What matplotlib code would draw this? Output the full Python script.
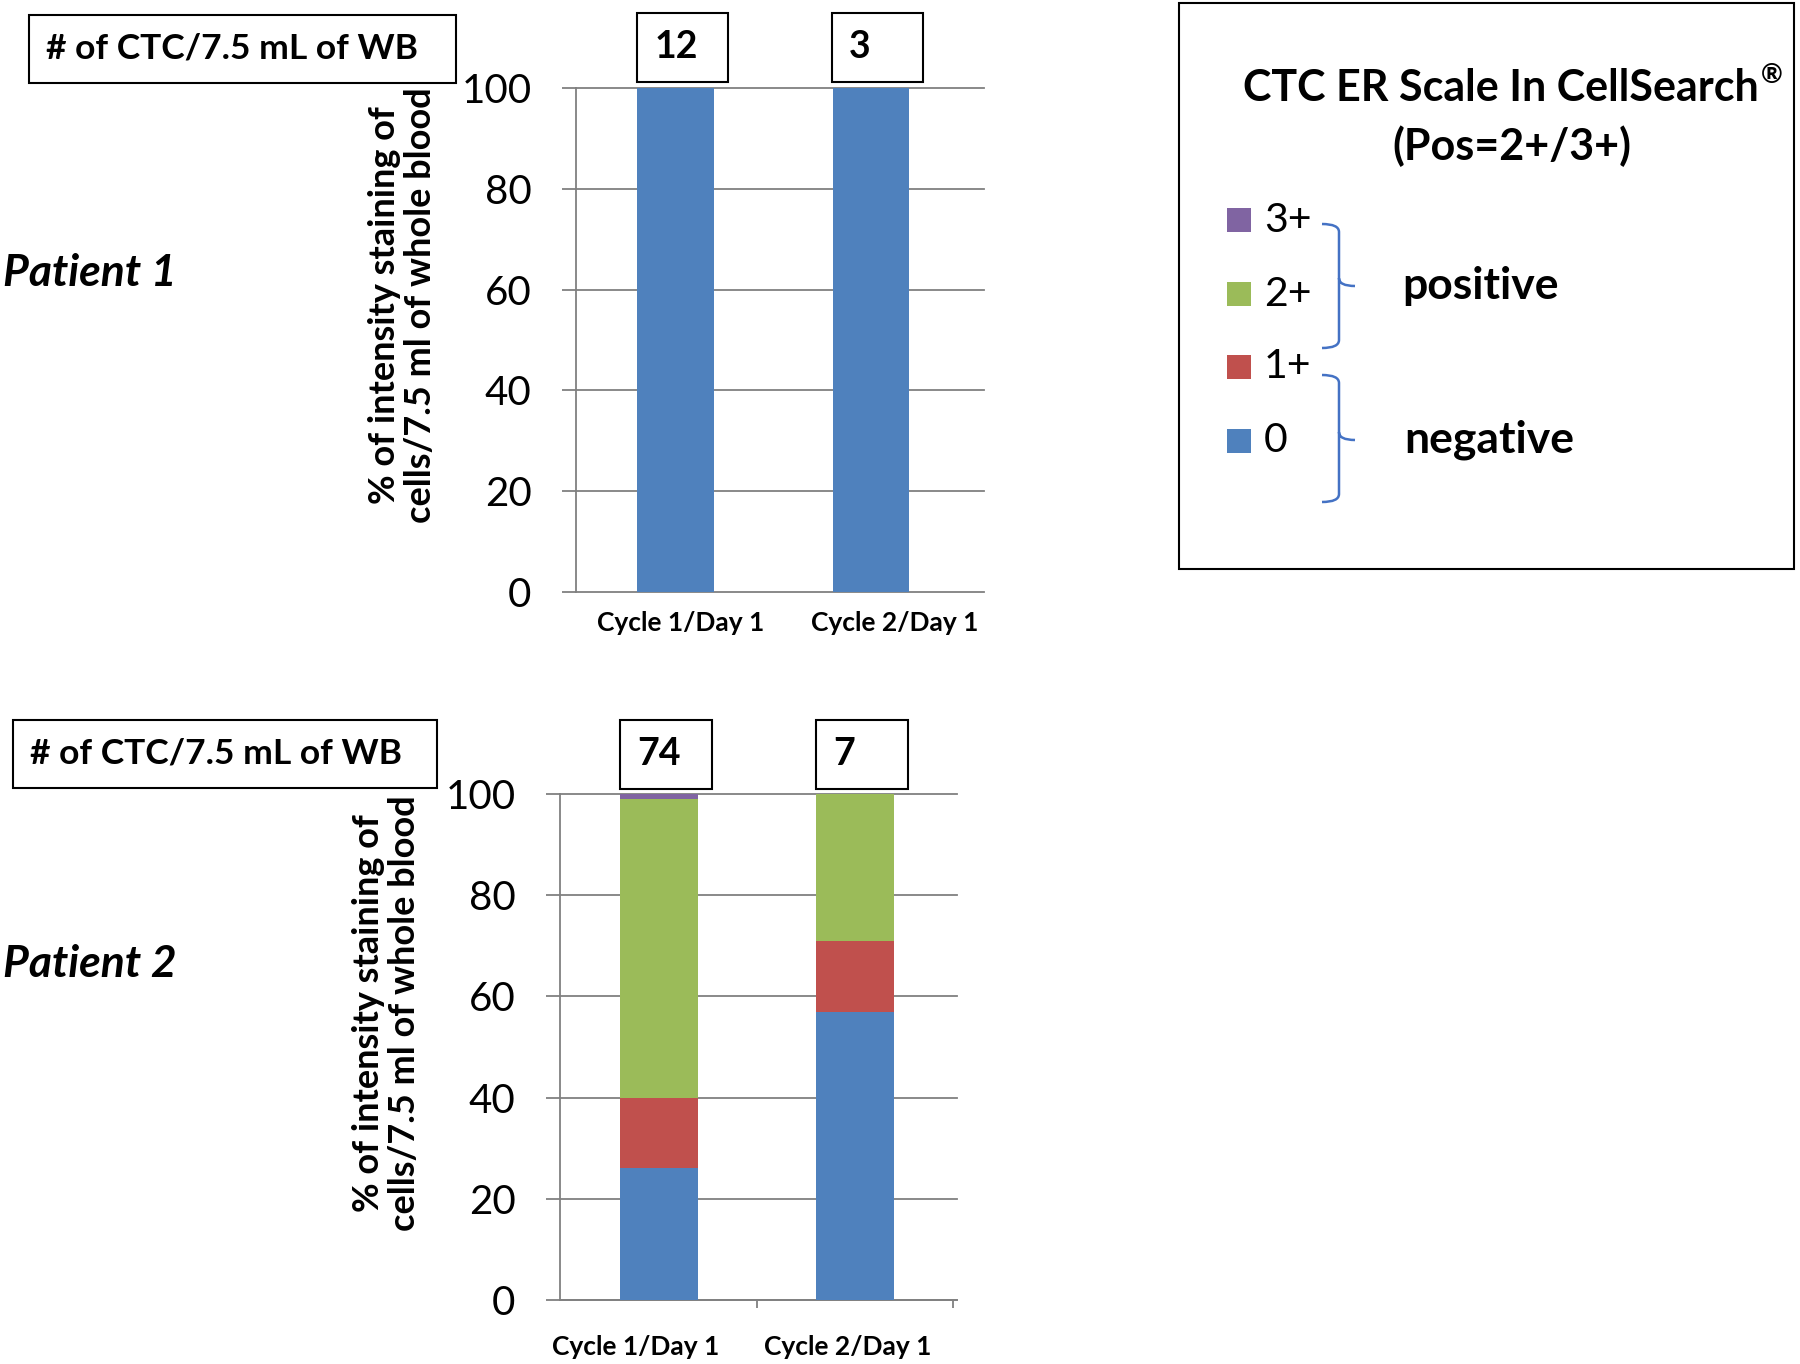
import numpy as np
import matplotlib
matplotlib.use('Agg')
import matplotlib.pyplot as plt
from matplotlib.patches import Rectangle, PathPatch
from matplotlib.path import Path
import matplotlib.transforms as mtransforms

plt.rcParams['font.family'] = ['Lato', 'DejaVu Sans']

W, H = 1800, 1364

# data
cycles = ['Cycle 1/Day 1', 'Cycle 2/Day 1']
levels = ['0', '1+', '2+', '3+']
level_colors = ['#4F81BD', '#C0504D', '#9BBB59', '#8064A2']

p1_ctc = [12, 3]
p1_zero = [100, 100]
p1_one = [0, 0]
p1_two = [0, 0]
p1_three = [0, 0]

p2_ctc = [74, 7]
p2_zero = [26, 57]
p2_one = [14, 14]
p2_two = [59, 29]
p2_three = [1, 0]

ylabel = '% of intensity staining of\ncells/7.5 ml of whole blood'
grid_col = '#808080'


def fx(x):
    return x / W


def fy(y):
    return 1 - y / H


fig = plt.figure(figsize=(W / 100, H / 100), dpi=100)

ax1 = fig.add_axes([fx(576), fy(592), (984 - 576) / W, (592 - 88) / H])
ax2 = fig.add_axes([fx(560), fy(1300), (957 - 560) / W, (1300 - 794) / H])


def draw_panel(ax, stacks, xlim, width):
    x = np.arange(len(cycles))
    bottom = np.zeros(len(cycles))
    for vals, c in zip(stacks, level_colors):
        vals = np.array(vals, dtype=float)
        ax.bar(x, vals, width, bottom=bottom, color=c, linewidth=0, zorder=3)
        bottom += vals
    ax.set_xlim(*xlim)
    ax.set_ylim(0, 100)
    yt = np.arange(0, 101, 20)
    ax.set_yticks(yt)
    for v in yt:
        ax.axhline(v, color=grid_col, lw=1.3, zorder=1, clip_on=False)
    ax.tick_params(axis='y', length=10, width=1.3, color=grid_col,
                   labelsize=29, pad=22)
    for s in ['top', 'right', 'bottom']:
        ax.spines[s].set_visible(False)
    ax.spines['left'].set_color(grid_col)
    ax.spines['left'].set_linewidth(1.3)
    ax.set_ylabel(ylabel, fontsize=26, fontweight='bold', linespacing=1.12)


def shift_labels(labels, dxs):
    for lab, dx in zip(labels, dxs):
        off = mtransforms.ScaledTranslation(dx / 100, 0, fig.dpi_scale_trans)
        lab.set_transform(lab.get_transform() + off)


draw_panel(ax1, [p1_zero, p1_one, p1_two, p1_three], (-0.51, 1.58), 0.39)
ax1.set_xticks(range(len(cycles)))
ax1.set_xticklabels(cycles, fontsize=19, fontweight='bold')
ax1.tick_params(axis='x', length=0, pad=14)
ax1.yaxis.set_label_coords(-0.34, 0.57)
shift_labels(ax1.get_xticklabels(), [5, 24])

draw_panel(ax2, [p2_zero, p2_one, p2_two, p2_three], (-0.505, 1.52), 0.4)
ax2.spines['bottom'].set_visible(True)
ax2.spines['bottom'].set_color(grid_col)
ax2.spines['bottom'].set_linewidth(1.3)
ax2.set_xticks([0.5, 1.5])
ax2.set_xticklabels([])
ax2.set_xticks(range(len(cycles)), minor=True)
ax2.set_xticklabels(cycles, minor=True, fontsize=19, fontweight='bold')
ax2.tick_params(axis='x', which='major', length=6, width=1.3, color=grid_col)
ax2.tick_params(axis='x', which='minor', length=0, pad=25)
ax2.yaxis.set_label_coords(-0.35, 0.567)
shift_labels(ax2.get_xticklabels(minor=True), [-23, -7])


def number_boxes(ax, counts, ytop, ybot):
    tr = mtransforms.blended_transform_factory(ax.transData, fig.transFigure)
    for i, n in enumerate(counts):
        r = Rectangle((i - 0.2, fy(ybot)), 0.47, fy(ytop) - fy(ybot),
                      transform=tr, fill=False, ec='black', lw=1.5,
                      clip_on=False)
        fig.add_artist(r)
        fig.text(i - 0.2 + 0.09, fy((ytop + ybot) / 2), str(n), transform=tr,
                 ha='left', va='center', fontsize=27, fontweight='bold')


number_boxes(ax1, p1_ctc, 13, 82)
number_boxes(ax2, p2_ctc, 720, 789)


def label_box(x0, x1, y0, y1, tx):
    fig.add_artist(Rectangle((fx(x0), fy(y1)), fx(x1) - fx(x0), fy(y0) - fy(y1),
                             transform=fig.transFigure, fill=False,
                             ec='black', lw=1.5))
    fig.text(fx(tx), fy((y0 + y1) / 2), '# of CTC/7.5 mL of WB', ha='left',
             va='center', fontsize=25.5, fontweight='bold')


label_box(29, 456, 15, 83, 46)
label_box(13, 437, 720, 788, 30)

fig.text(fx(3), fy(273), 'Patient 1', ha='left', va='center', fontsize=32,
         fontweight='bold', fontstyle='italic')
fig.text(fx(3), fy(964), 'Patient 2', ha='left', va='center', fontsize=32,
         fontweight='bold', fontstyle='italic')

# legend panel
fig.add_artist(Rectangle((fx(1179), fy(569)), fx(1794) - fx(1179),
                         fy(3) - fy(569), transform=fig.transFigure,
                         fill=False, ec='black', lw=1.5))
t1 = fig.text(fx(1501), fy(88), 'CTC ER Scale In CellSearch', ha='center',
              va='center', fontsize=31, fontweight='bold')
fig.text(fx(1512), fy(146), '(Pos=2+/3+)', ha='center', va='center',
         fontsize=31, fontweight='bold')
fig.canvas.draw()
bb = t1.get_window_extent()
fig.text(bb.x1 / W + 0.001, bb.y1 / H + 0.004, '\u00ae', ha='left', va='top',
         fontsize=19, fontweight='bold')

leg_y = [441, 367, 294, 220]
for lv, c, y in zip(levels, level_colors, leg_y):
    fig.add_artist(Rectangle((fx(1227), fy(y + 12)), 24 / W, 24 / H,
                             transform=fig.transFigure, fc=c, ec='none'))
    fig.text(fx(1264), fy(y), lv, ha='left', va='center', fontsize=29.5)


def brace(y_top, y_tip, y_bot, x0=1322, xm=1339, xt=1355, r=8):
    pts = [(x0, y_top), (xm, y_top), (xm, y_top + r),
           (xm, y_tip - r), (xm, y_tip), (xt, y_tip),
           (xm, y_tip - r), (xm, y_tip + r),
           (xm, y_bot - r), (xm, y_bot), (x0, y_bot)]
    codes = [Path.MOVETO, Path.CURVE3, Path.CURVE3,
             Path.LINETO, Path.CURVE3, Path.CURVE3,
             Path.MOVETO, Path.LINETO,
             Path.LINETO, Path.CURVE3, Path.CURVE3]
    verts = [(fx(a), fy(b)) for a, b in pts]
    fig.add_artist(PathPatch(Path(verts, codes), transform=fig.transFigure,
                             fill=False, ec='#4472C4', lw=1.8))


brace(224, 286, 348)
brace(375, 440, 502)
fig.text(fx(1402), fy(286), 'positive', ha='left', va='center', fontsize=32,
         fontweight='bold')
fig.text(fx(1404), fy(440), 'negative', ha='left', va='center', fontsize=32,
         fontweight='bold')

fig.savefig('out.png', dpi=100)
